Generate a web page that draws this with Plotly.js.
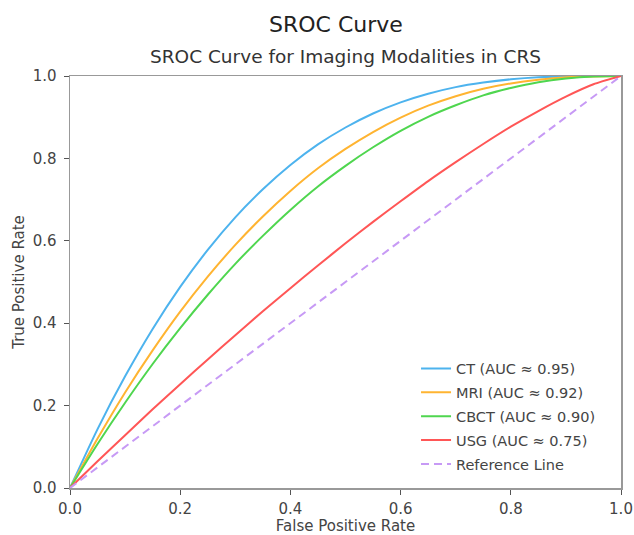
<!DOCTYPE html>
<html>
<head>
<meta charset="utf-8">
<script src="https://cdn.plot.ly/plotly-3.0.1.min.js"></script>
<style>html,body{margin:0;padding:0;background:#fff;}#chart{width:634px;height:535px;}</style>
</head>
<body>
<div id="chart"></div>
<script>
// False positive rate sample points
var fpr = [0, 0.05, 0.1, 0.15, 0.2, 0.25, 0.3, 0.35, 0.4, 0.45, 0.5, 0.55, 0.6, 0.65, 0.7, 0.75, 0.8, 0.85, 0.9, 0.95, 1];
// True positive rates
var ctTpr   = [0, 0.143, 0.271, 0.386, 0.488, 0.578, 0.657, 0.725, 0.784, 0.834, 0.875, 0.909, 0.936, 0.957, 0.973, 0.984, 0.992, 0.997, 0.999, 1.000, 1];
var mriTpr  = [0, 0.120, 0.232, 0.334, 0.428, 0.513, 0.590, 0.659, 0.721, 0.776, 0.823, 0.864, 0.899, 0.928, 0.951, 0.969, 0.982, 0.991, 0.997, 0.999, 1];
var cbctTpr = [0, 0.107, 0.207, 0.301, 0.388, 0.469, 0.544, 0.612, 0.675, 0.732, 0.782, 0.827, 0.867, 0.901, 0.929, 0.953, 0.971, 0.985, 0.994, 0.999, 1];
var usgTpr  = [0, 0.065, 0.128, 0.191, 0.252, 0.312, 0.371, 0.429, 0.485, 0.540, 0.594, 0.646, 0.696, 0.745, 0.791, 0.835, 0.877, 0.915, 0.950, 0.980, 1];
var refX = [0, 1];
var refY = [0, 1];
var seriesNames = ['CT (AUC \u2248 0.95)', 'MRI (AUC \u2248 0.92)', 'CBCT (AUC \u2248 0.90)', 'USG (AUC \u2248 0.75)', 'Reference Line'];
var tickVals = [0, 0.2, 0.4, 0.6, 0.8, 1.0];
var tickText = ['0.0', '0.2', '0.4', '0.6', '0.8', '1.0'];

var colors = ['#4db3ee', '#ffb431', '#4fd64f', '#ff5656', '#c79af5'];
var ys = [ctTpr, mriTpr, cbctTpr, usgTpr];

var traces = ys.map(function (y, i) {
  return {
    x: fpr, y: y, type: 'scatter', mode: 'lines', name: seriesNames[i],
    legendgroup: 'g' + i, cliponaxis: false,
    line: {color: colors[i], width: 2, shape: 'spline', smoothing: 0.6}
  };
});
traces.push({
  x: refX, y: refY, type: 'scatter', mode: 'lines', name: seriesNames[4],
  legendgroup: 'g4', cliponaxis: false,
  line: {color: colors[4], width: 2, dash: '8px,5px'}
});

var font = 'DejaVu Sans, sans-serif';
var axisCommon = {
  range: [0, 1], tickvals: tickVals, ticktext: tickText,
  ticks: 'outside', ticklen: 5, tickwidth: 1, tickcolor: '#555',
  showline: true, linecolor: '#999', linewidth: 1.5, mirror: true,
  showgrid: false, zeroline: false,
  tickfont: {family: font, size: 15, color: '#444'}
};

var layout = {
  width: 634, height: 535,
  margin: {l: 70, r: 13, t: 76, b: 47},
  paper_bgcolor: '#fff', plot_bgcolor: '#fff',
  showlegend: true,
  xaxis: Object.assign({}, axisCommon, {
    ticklabelstandoff: 1,
    title: {text: 'False Positive Rate', font: {family: font, size: 15, color: '#444'}, standoff: 8}
  }),
  yaxis: Object.assign({}, axisCommon, {
    ticklabelstandoff: 4,
    title: {text: 'True Positive Rate', font: {family: font, size: 15, color: '#444'}, standoff: 4}
  }),
  legend: {
    x: 0.628, y: 0.018, xanchor: 'left', yanchor: 'bottom',
    bgcolor: 'rgba(255,255,255,0.8)', borderwidth: 0,
    font: {family: font, size: 14.5, color: '#444'},
    traceorder: 'grouped', tracegroupgap: 2
  },
  annotations: [
    {text: 'SROC Curve', xref: 'paper', yref: 'paper', x: 0.483, y: (488 - 24) / 412,
     xanchor: 'center', yanchor: 'middle', showarrow: false,
     font: {family: font, size: 22, color: '#222'}},
    {text: 'SROC Curve for Imaging Modalities in CRS', xref: 'paper', yref: 'paper', x: 0.5, y: (488 - 57) / 412,
     xanchor: 'center', yanchor: 'middle', showarrow: false,
     font: {family: font, size: 18.5, color: '#333'}}
  ]
};

Plotly.newPlot('chart', traces, layout, {displayModeBar: false, staticPlot: true});
</script>
</body>
</html>
